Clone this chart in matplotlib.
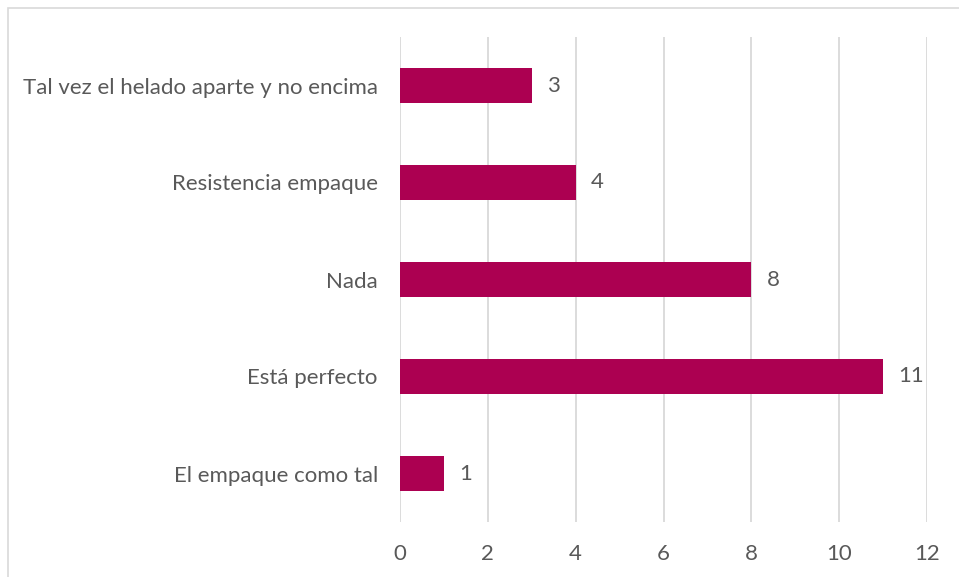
import matplotlib
matplotlib.use("Agg")
import matplotlib.pyplot as plt
from matplotlib.patches import Rectangle

categories = [
    "El empaque como tal",
    "Está perfecto",
    "Nada",
    "Resistencia empaque",
    "Tal vez el helado aparte y no encima",
]
values = [1, 11, 8, 4, 3]
x_ticks = [0, 2, 4, 6, 8, 10, 12]

bar_color = "#AC0051"
text_color = "#595959"
grid_color = "#D9D9D9"

plt.rcParams["font.family"] = ["Lato", "DejaVu Sans"]

W, H = 959, 577
fig = plt.figure(figsize=(W / 100, H / 100), dpi=100)
fig.patch.set_facecolor("white")

# outer chart frame (extends past the right and bottom edges)
fig.add_artist(Rectangle((8 / W, -0.1), 1.2, 1 - 8 / H + 0.1,
                         transform=fig.transFigure, fill=False,
                         edgecolor=grid_color, linewidth=1.2))

ax = fig.add_axes([400 / W, 1 - 522 / H, (927 - 400) / W, (522 - 37) / H])
ypos = list(range(len(categories)))
ax.barh(ypos, values, height=0.36, color=bar_color, zorder=3)

ax.set_xlim(0, 12)
ax.set_ylim(-0.5, len(categories) - 0.5)
ax.set_xticks(x_ticks)
ax.set_xticklabels([str(t) for t in x_ticks])
ax.set_yticks(ypos)
ax.set_yticklabels(categories)

ax.tick_params(axis="both", length=0, colors=text_color, labelsize=16)
ax.tick_params(axis="x", pad=16)
ax.tick_params(axis="y", pad=16)
for s in ax.spines.values():
    s.set_visible(False)
ax.xaxis.grid(True, color=grid_color, linewidth=1.3, zorder=0)
ax.set_axisbelow(True)

for y, v in zip(ypos, values):
    ax.annotate(str(v), xy=(v, y), xytext=(11, 0), textcoords="offset points",
                ha="left", va="center", fontsize=16, color=text_color)

fig.savefig("out.png", dpi=100, facecolor="white")
